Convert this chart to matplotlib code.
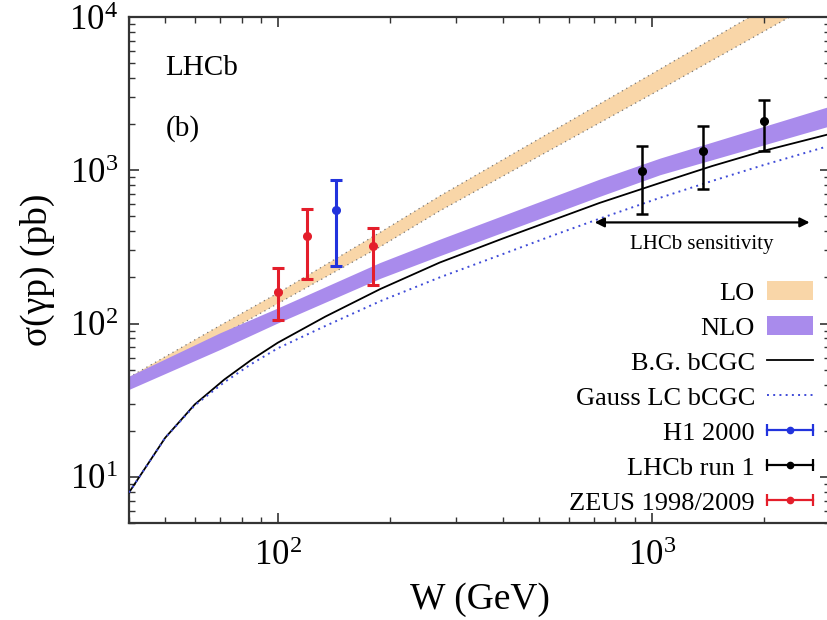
import numpy as np
import matplotlib
matplotlib.use("Agg")
import matplotlib.pyplot as plt
from matplotlib.lines import Line2D
from matplotlib.patches import Patch
from matplotlib.legend_handler import HandlerBase
from matplotlib.ticker import NullFormatter

plt.rcParams['font.family'] = ['Liberation Serif', 'DejaVu Serif']
plt.rcParams['mathtext.fontset'] = 'stix'

# ---- data ----
lo_w = [40, 70, 100, 190, 270, 1000, 1830, 3000]
lo_hi = [44.6, 97, 158, 400, 675, 4250, 10000, 20000]
lo_w2 = [40, 70, 100, 190, 270, 1000, 2340, 3000]
lo_lo = [38.8, 83, 135, 322, 540, 3134, 10000, 14000]

nlo_w = [40, 70, 100, 187.5, 271, 725, 1052, 3000]
nlo_hi = [45.4, 87, 126.5, 250, 355, 875, 1200, 2620]
nlo_lo = [37.2, 67.7, 101, 197, 277, 675, 935, 1950]

bg_w = [40, 50, 60, 72, 85, 100, 134, 188, 271, 400, 540, 725, 1050, 1450, 2000, 3000]
bg_s = [7.9, 18.0, 29.7, 43.2, 58, 75, 111, 168, 250, 359, 470, 612, 825, 1065, 1342, 1726]

ga_w = [40, 50, 60, 72, 85, 100, 134, 188, 271, 400, 540, 725, 1050, 1450, 2000, 3000]
ga_s = [7.9, 18.0, 29.3, 41.5, 54.5, 69, 96.4, 140, 200, 284, 373, 483, 660, 851, 1085, 1449]

zeus_w = [100, 120, 180]
zeus_s = [160, 374, 322]
zeus_up = [231, 559, 420]
zeus_dn = [105, 196, 178]

h1_w = [143]
h1_s = [553]
h1_up = [858]
h1_dn = [236]

lhcb_w = [942, 1370, 2000]
lhcb_s = [992, 1340, 2111]
lhcb_up = [1444, 1933, 2879]
lhcb_dn = [521, 756, 1330]

sens_range = [704, 2646]
sens_level = 457

c_lo = '#F9D6A8'
c_nlo = '#A98BEC'
c_red = '#E41E2B'
c_blue = '#2233DD'
c_gauss = '#3F4BD8'

fig = plt.figure(figsize=(8.27, 6.2), dpi=100)
ax = fig.add_axes([129/827, 97/620, 701/827, 506/620])
ax.set_xscale('log')
ax.set_yscale('log')
ax.set_xlim(40, 3000)
ax.set_ylim(5, 1e4)

# bands
ax.fill(np.r_[lo_w, lo_w2[::-1]], np.r_[lo_hi, lo_lo[::-1]], color=c_lo, lw=0, zorder=1)
ax.plot(lo_w, lo_hi, ls=(0, (1, 3)), color='#777777', lw=0.9, zorder=1.5)
ax.plot(lo_w2, lo_lo, ls=(0, (1, 3)), color='#777777', lw=0.9, zorder=1.5)
ax.fill_between(nlo_w, nlo_lo, nlo_hi, color=c_nlo, lw=0, zorder=2)

ax.plot(bg_w, bg_s, color='black', lw=1.3, zorder=3)
ax.plot(ga_w, ga_s, color=c_gauss, lw=1.4, ls=(0, (1, 2.2)), zorder=3)

def eb(w, s, up, dn, color, lw, cap):
    s = np.array(s); up = np.array(up); dn = np.array(dn)
    ax.errorbar(w, s, yerr=[s - dn, up - s], fmt='o', color=color, ms=5.5,
                elinewidth=lw, capsize=cap, capthick=lw, zorder=5)

eb(zeus_w, zeus_s, zeus_up, zeus_dn, c_red, 2.2, 4)
eb(h1_w, h1_s, h1_up, h1_dn, c_blue, 2.2, 4)
eb(lhcb_w, lhcb_s, lhcb_up, lhcb_dn, 'black', 1.8, 4)

ax.annotate('', xy=(sens_range[1], sens_level), xytext=(sens_range[0], sens_level),
            arrowprops=dict(arrowstyle='<|-|>', color='black', lw=1.6,
                            mutation_scale=14, shrinkA=0, shrinkB=0), zorder=4)
ax.text(np.sqrt(sens_range[0] * sens_range[1]), 330, 'LHCb sensitivity',
        ha='center', va='center', fontsize=15)

ax.text(0.052, 0.90, 'LHCb', transform=ax.transAxes, fontsize=21, va='center', ha='left')
ax.text(0.052, 0.78, '(b)', transform=ax.transAxes, fontsize=21, va='center', ha='left')

ax.set_xlabel('W (GeV)', fontsize=27)
ax.set_ylabel('σ(γp) (pb)', fontsize=27)
ax.xaxis.set_label_coords(0.5, -0.118)
ax.yaxis.set_label_coords(-0.105, 0.5)

ax.tick_params(which='both', direction='in', top=True, right=True, labelsize=25,
               color='#333333')
ax.tick_params(axis='x', which='major', pad=12)
ax.tick_params(axis='y', which='major', pad=8)
ax.tick_params(which='major', length=7, width=1.2)
ax.tick_params(which='minor', length=4, width=1.0)
ax.xaxis.set_minor_formatter(NullFormatter())
ax.yaxis.set_minor_formatter(NullFormatter())
for sp in ax.spines.values():
    sp.set_linewidth(1.6)
    sp.set_color('#333333')


class HandlerHBar(HandlerBase):
    def create_artists(self, legend, orig_handle, xdescent, ydescent, width, height,
                       fontsize, trans):
        c = orig_handle.get_color()
        y = (height - ydescent) / 2
        x0, x1 = -xdescent, -xdescent + width
        line = Line2D([x0, x1], [y, y], color=c, lw=1.6)
        caps = Line2D([x0, x1], [y, y], ls='none', marker='|', ms=9, mew=1.6, color=c)
        dot = Line2D([(x0 + x1) / 2], [y], ls='none', marker='o', ms=4.5, color=c)
        for a in (line, caps, dot):
            a.set_transform(trans)
        return [line, caps, dot]


h_lo = Patch(facecolor=c_lo, edgecolor='none')
h_nlo = Patch(facecolor=c_nlo, edgecolor='none')
h_bg = Line2D([], [], color='black', lw=1.3)
h_ga = Line2D([], [], color=c_gauss, lw=1.4, ls=(0, (1, 2.2)))
h_h1 = Line2D([], [], color=c_blue)
h_lh = Line2D([], [], color='black')
h_ze = Line2D([], [], color=c_red)

leg = fig.legend([h_lo, h_nlo, h_bg, h_ga, h_h1, h_lh, h_ze],
                 ['LO', 'NLO', 'B.G. bCGC', 'Gauss LC bCGC', 'H1 2000', 'LHCb run 1',
                  'ZEUS 1998/2009'],
                 handler_map={h_h1: HandlerHBar(), h_lh: HandlerHBar(), h_ze: HandlerHBar()},
                 loc='upper right', bbox_to_anchor=(813/827, (620 - 281)/620),
                 frameon=False, markerfirst=False, fontsize=19, borderpad=0,
                 borderaxespad=0, handlelength=1.75, handleheight=0.75,
                 handletextpad=0.45, labelspacing=0.42)

fig.savefig('out.png', dpi=100)
